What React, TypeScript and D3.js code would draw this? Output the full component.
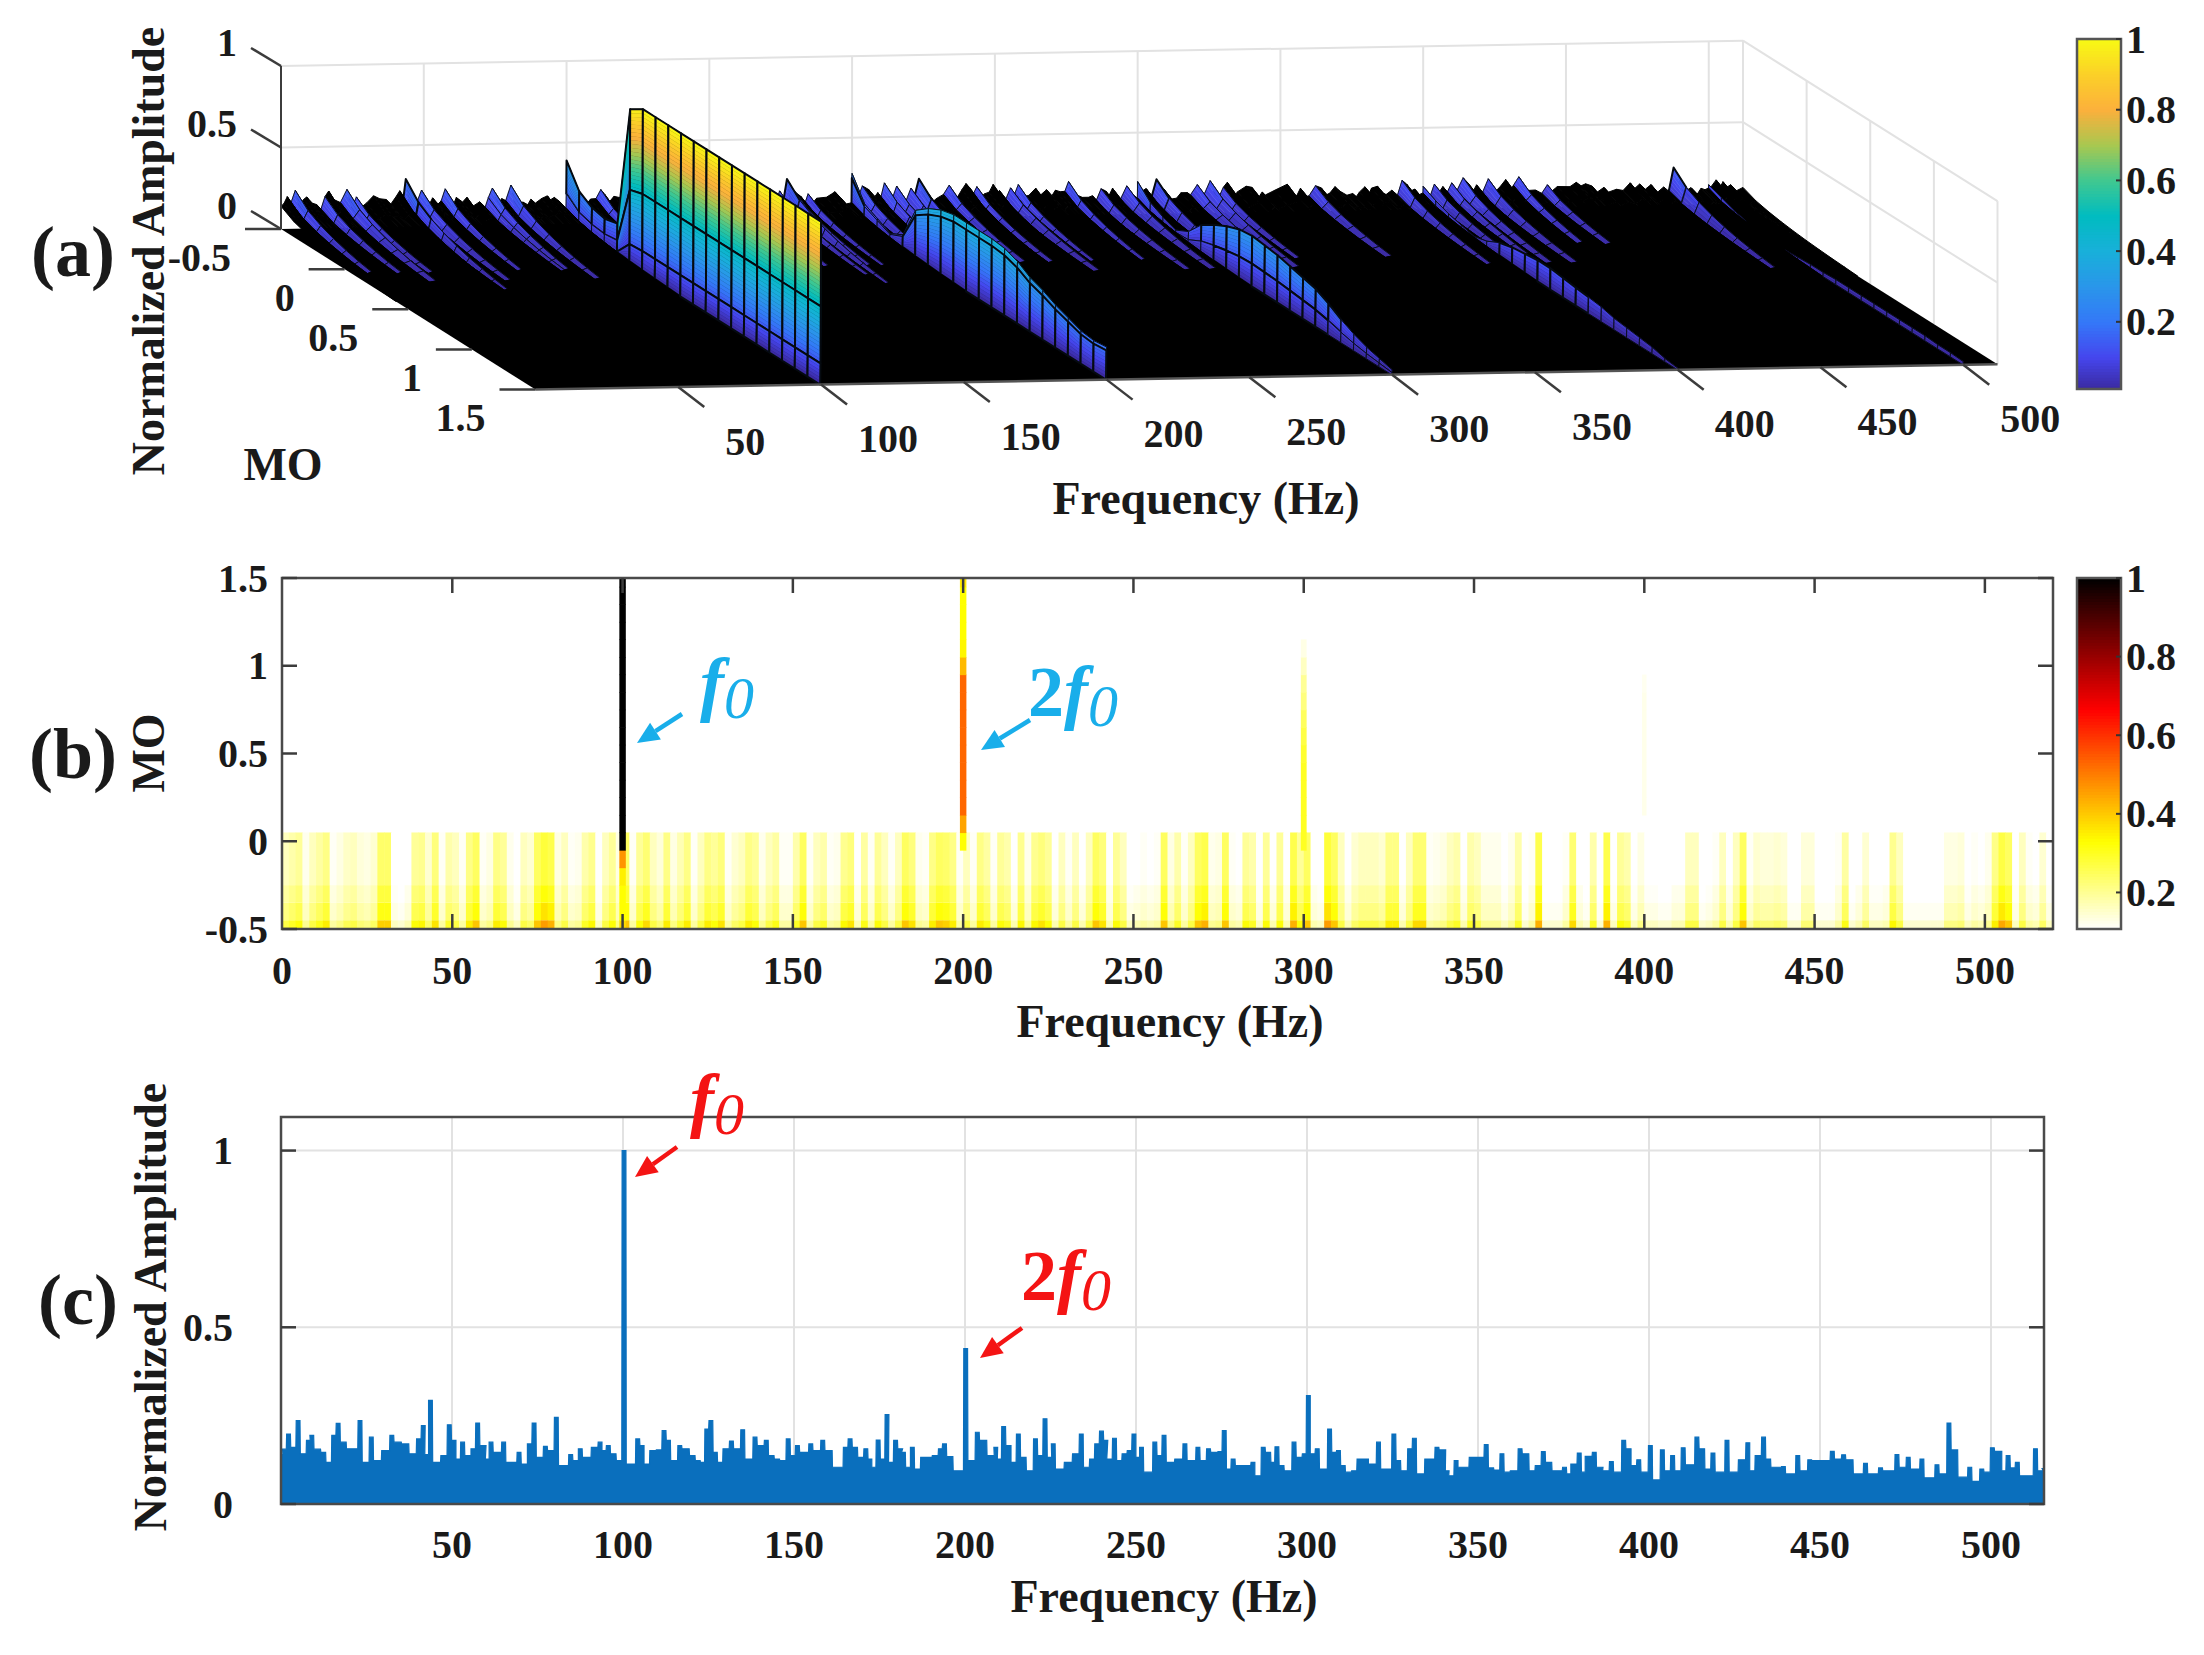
import React from 'react';
import * as d3 from 'd3';

// ---- spectrum of panel (c), also the MO = -0.5 row of the surface in (a)
const specFreq = [
  0, 1, 2.2, 3.5, 5, 6.2, 8, 9, 11, 12.5, 14, 15.4, 16.7, 18.5, 20.8, 23.1, 24.8, 26.4, 28, 30, 32.4, 34.6, 36.8, 38.5, 40.2, 41.6, 42.6, 43.7, 45.1, 47.3, 49.2, 50.6, 51.7, 53.1, 55, 56.1, 57.5, 59.4, 60.3, 61.4, 63.6, 65.1, 67.1, 69.6, 71.5, 72.6, 74, 75.9, 77.3, 78.7, 80.5, 82, 84.7, 86.4, 87.5, 89.1, 91.3, 93.3, 94.4, 95.7, 97.4, 99, 100.3, 102.3, 104.3, 105.6, 106.7, 108.4, 110.3, 112, 113.3, 114.6, 116.6, 118.8, 120.5, 122, 123.2, 124.5, 125.7, 127, 128.2, 129.8, 131.7, 133.4, 135, 136.4, 138.6, 140.3, 141.9, 143.6, 145.2, 146.9, 148.3, 149.6, 151, 153, 154.9, 156.8, 158.4, 160.6, 163.4, 165, 166.4, 168, 169.4, 171,
  172.2, 173.3, 174.6, 176, 177.2, 178.2, 179.7, 181.2, 182, 183.5, 184.6, 186, 187.6, 191, 192.8, 194, 195.9, 198, 200.2, 201.9, 203.6, 205.8, 208, 209, 210, 211.3, 212.9, 214, 215.6, 217.3, 218.6, 220.6, 221.9, 223.4, 224.8, 225.8, 227, 228.3, 229.6, 232, 234, 235.8, 237, 238.5, 239.9, 241.2, 242, 243.7, 245, 246.5, 248, 249.4, 250.5, 251.6, 253.4, 255.5, 256.9, 258.2, 259.7, 261.9, 264.3, 265.7, 268.1, 270, 271.2, 272.9, 274.5, 275.8, 277, 278.4, 280.6, 282.8, 284.2, 285.3, 287.2, 288.8, 290, 291.2, 292.7, 294, 296.2, 297.6, 299.2, 300.4, 301.5, 303, 304.8, 306.6, 308, 309.2, 310.6, 311.9, 313.6, 315.2, 317.4, 318.5, 320.9, 322.9, 325.4, 326.8, 328.4, 330, 331.4, 333, 335, 338, 340, 341, 342, 343.6,
  344.7, 348, 352.4, 354, 355.7, 357, 358.5, 360, 362.3, 364.3, 365.6, 367.3, 369.1, 371, 373.3, 375.3, 376.6, 377.7, 379.6, 380.8, 381.9, 384, 386, 387, 389, 391, 392.6, 394.2, 395.3, 397, 398.6, 400.4, 402.2, 403.9, 405.2, 406.9, 408.2, 410, 411.8, 414, 415.7, 417.3, 418.7, 420.6, 422.8, 424.5, 426.7, 428.9, 430, 431.6, 433.5, 435, 436.6, 439.3, 441.5, 443.5, 444.8, 447, 451.4, 453.6, 455.3, 456.9, 459.1, 460.8, 463.3, 464.8, 467.7, 470, 472.5, 474, 475.8, 477.8, 479.8, 481.7, 484.2, 486, 487.7, 489.7, 491, 493.8, 496, 497.3, 498.7, 500.4, 502.6, 503.7, 505, 506.3, 507.7, 509.7, 513, 514.7, 515.5,
];
const specAmp = [
  0.14, 0.155, 0.198, 0.16, 0.236, 0.142, 0.18, 0.194, 0.155, 0.146, 0.118, 0.194, 0.228, 0.175, 0.156, 0.236, 0.118, 0.189, 0.123, 0.151, 0.194, 0.175, 0.17, 0.142, 0.184, 0.222, 0.14, 0.293, 0.118, 0.137, 0.224, 0.18, 0.127, 0.175, 0.137, 0.156, 0.229, 0.165, 0.127, 0.175, 0.146, 0.175, 0.118, 0.146, 0.113, 0.17, 0.229, 0.132, 0.163, 0.151, 0.245, 0.109, 0.14, 0.123, 0.156, 0.132, 0.16, 0.175, 0.151, 0.165, 0.142, 0.123, 1, 0.113, 0.184, 0.165, 0.113, 0.151, 0.153, 0.208, 0.18, 0.123, 0.165, 0.156, 0.137, 0.123, 0.118, 0.212, 0.236, 0.146, 0.118, 0.156, 0.178, 0.156, 0.21, 0.127, 0.189, 0.165, 0.18, 0.137, 0.127, 0.123, 0.184, 0.137, 0.165, 0.146, 0.17, 0.151, 0.18, 0.151, 0.104, 0.16, 0.184, 0.16, 0.132, 0.156,
  0.127, 0.104, 0.181, 0.127, 0.253, 0.118, 0.18, 0.156, 0.146, 0.104, 0.16, 0.099, 0.132, 0.137, 0.156, 0.17, 0.134, 0.094, 0.44, 0.123, 0.203, 0.18, 0.137, 0.16, 0.127, 0.219, 0.165, 0.118, 0.198, 0.132, 0.094, 0.184, 0.137, 0.241, 0.132, 0.17, 0.099, 0.099, 0.118, 0.142, 0.198, 0.104, 0.127, 0.17, 0.206, 0.18, 0.127, 0.186, 0.123, 0.142, 0.151, 0.198, 0.132, 0.16, 0.09, 0.175, 0.137, 0.194, 0.118, 0.127, 0.17, 0.123, 0.16, 0.123, 0.156, 0.146, 0.148, 0.208, 0.099, 0.127, 0.109, 0.109, 0.118, 0.08, 0.16, 0.146, 0.118, 0.162, 0.109, 0.094, 0.175, 0.132, 0.142, 0.307, 0.142, 0.156, 0.099, 0.212, 0.146, 0.151, 0.109, 0.09, 0.094, 0.127, 0.127, 0.113, 0.175, 0.099, 0.198, 0.123, 0.094, 0.156, 0.186, 0.085, 0.127, 0.16, 0.153, 0.094, 0.08, 0.123,
  0.104, 0.132, 0.168, 0.102, 0.096, 0.142, 0.09, 0.094, 0.156, 0.142, 0.094, 0.109, 0.148, 0.118, 0.094, 0.104, 0.085, 0.113, 0.144, 0.09, 0.135, 0.146, 0.104, 0.094, 0.12, 0.09, 0.18, 0.156, 0.109, 0.125, 0.09, 0.165, 0.068, 0.153, 0.094, 0.137, 0.094, 0.159, 0.111, 0.189, 0.156, 0.099, 0.144, 0.09, 0.18, 0.09, 0.125, 0.173, 0.094, 0.137, 0.189, 0.127, 0.104, 0.106, 0.085, 0.137, 0.094, 0.125, 0.123, 0.149, 0.127, 0.139, 0.125, 0.085, 0.115, 0.085, 0.102, 0.094, 0.14, 0.104, 0.132, 0.099, 0.127, 0.074, 0.111, 0.085, 0.229, 0.153, 0.076, 0.104, 0.064, 0.099, 0.09, 0.159, 0.149, 0.094, 0.137, 0.102, 0.118, 0.08, 0.156, 0.094, 0.1,
];

// ---- surface (a): rows of MO, how the noise falls off, and the harmonic ridges
const moRows = [-0.5, -0.4, -0.3, -0.2, -0.1, 0, 0.1, 0.2, 0.3, 0.4, 0.5, 0.6, 0.7, 0.8, 0.9, 1, 1.1, 1.2, 1.3, 1.4, 1.5];
const noiseDecay = [1, 0.68, 0.5, 0.37, 0.27, 0.19, 0.13, 0.08, 0.04, 0, 0, 0, 0, 0, 0, 0, 0, 0, 0, 0, 0];
const ridgeFreqs = [100, 200, 300, 400, 500];
const ridge100 = [0.39, 0.25, 0.2, 0.18, 0.2, 0.95, 1, 1, 1, 1, 1, 1, 1, 1, 1, 1, 1, 1, 1, 1, 1];
const ridge200 = [0.28, 0.14, 0.1, 0.06, 0.1, 0.3, 0.36, 0.4, 0.42, 0.42, 0.42, 0.42, 0.41, 0.38, 0.33, 0.3, 0.26, 0.23, 0.2, 0.19, 0.2];
const ridge300 = [0.2, 0.12, 0.08, 0.05, 0.09, 0.18, 0.23, 0.27, 0.3, 0.31, 0.3, 0.29, 0.27, 0.25, 0.23, 0.19, 0.14, 0.1, 0.07, 0.05, 0.03];
const ridge400 = [0.14, 0.1, 0.07, 0.05, 0.03, 0.05, 0.09, 0.11, 0.12, 0.13, 0.13, 0.12, 0.11, 0.1, 0.09, 0.07, 0.06, 0.05, 0.04, 0.02, 0.01];
const ridge500 = [0.12, 0.09, 0.06, 0.04, 0.02, 0.01, 0.015, 0.02, 0.025, 0.025, 0.03, 0.03, 0.03, 0.03, 0.03, 0.03, 0.03, 0.03, 0.025, 0.025, 0.02];
const ridgeTops = [ridge100, ridge200, ridge300, ridge400, ridge500];
const ridgeShape = [[0, 0.13, 0.48, 1], [0, 0.9, 1], [0, 0.45, 1], [0, 1], [0, 1]];

// ---- heat map (b): column levels every 2 Hz, gain of the lower rows, harmonic columns
const bandLevel = [
  0.2, 0.22, 0.24, 0.15, 0.2, 0.23, 0.26, 0.14, 0.16, 0.19, 0.2, 0.17, 0.16, 0.18, 0.29, 0.29, 0.12, 0.11, 0.13, 0.24, 0.25, 0.18, 0.27, 0.14, 0.22, 0.2, 0.14, 0.26, 0.3, 0.14, 0.16, 0.26, 0.24, 0.15, 0.12, 0.2, 0.18, 0.3, 0.34, 0.32, 0.16, 0.2, 0.14, 0.15, 0.22, 0.25, 0.12, 0.2, 0.24, 0.16,
  0.3, 0.14, 0.24, 0.28, 0.2, 0.17, 0.26, 0.16, 0.21, 0.26, 0.14, 0.2, 0.26, 0.24, 0.27, 0.14, 0.18, 0.2, 0.26, 0.24, 0.15, 0.2, 0.23, 0.14, 0.14, 0.22, 0.3, 0.14, 0.2, 0.22, 0.14, 0.15, 0.25, 0.27, 0.13, 0.23, 0.14, 0.24, 0.2, 0.14, 0.2, 0.3, 0.27, 0.15, 0.14, 0.26, 0.3, 0.29, 0.26, 0.14,
  0.2, 0.14, 0.26, 0.23, 0.14, 0.24, 0.22, 0.13, 0.25, 0.15, 0.25, 0.27, 0.24, 0.13, 0.2, 0.14, 0.2, 0.13, 0.2, 0.3, 0.27, 0.13, 0.24, 0.2, 0.12, 0.13, 0.14, 0.13, 0.14, 0.3,
  0.16, 0.22, 0.14, 0.2, 0.3, 0.32, 0.15, 0.16, 0.3, 0.14, 0.13, 0.24, 0.22, 0.12, 0.24, 0.13, 0.24, 0.13, 0.32, 0.24, 0.3, 0.13, 0.12, 0.34, 0.3, 0.2, 0.13, 0.18, 0.2, 0.2, 0.2, 0.18, 0.26, 0.26, 0.13, 0.2, 0.28, 0.28, 0.14, 0.15, 0.16, 0.2, 0.22, 0.13, 0.22, 0.2, 0.15, 0.15, 0.15, 0.12,
  0.15, 0.22, 0.11, 0.14, 0.32, 0.11, 0.11, 0.11, 0.14, 0.28, 0.13, 0.11, 0.22, 0.11, 0.32, 0.12, 0.24, 0.22, 0.12, 0.16, 0.12, 0.12, 0.11, 0.11, 0.13, 0.13, 0.2, 0.2, 0.11, 0.12, 0.14, 0.2, 0.13, 0.2, 0.3, 0.14, 0.18, 0.17, 0.17, 0.18, 0.17, 0.11, 0.11, 0.17, 0.17, 0.11, 0.11, 0.11, 0.14, 0.23,
  0.11, 0.13, 0.18, 0.12, 0.12, 0.13, 0.25, 0.2, 0.11, 0.11, 0.11, 0.11, 0.11, 0.11, 0.16, 0.16, 0.17, 0.12, 0.14, 0.13, 0.15, 0.26, 0.33, 0.3, 0.12, 0.2, 0.14, 0.13, 0.18, 0.12,
];
const bandRowEdges = [-0.5, -0.45, -0.35, -0.25, 0.05];
const bandRowGain = [1.35, 1.08, 0.95, 0.82];
const heatFreqs = [100, 200, 300, 400];
const heat100 = [0.38, 0.33, 0.33, 0.35, 0.47, 1, 1, 1, 1, 1, 1, 1, 1, 1, 1, 1, 1, 1, 1, 1, 1];
const heat200 = [0, 0, 0, 0, 0, 0.33, 0.45, 0.53, 0.53, 0.53, 0.53, 0.53, 0.53, 0.53, 0.53, 0.42, 0.34, 0.33, 0.33, 0.33, 0.36];
const heat300 = [0, 0, 0, 0, 0, 0.3, 0.3, 0.3, 0.3, 0.3, 0.29, 0.27, 0.25, 0.22, 0.2, 0.16, 0.13, 0, 0, 0, 0];
const heat400 = [0, 0, 0, 0, 0, 0, 0, 0.125, 0.125, 0.125, 0.125, 0.125, 0.125, 0.125, 0.12, 0, 0, 0, 0, 0, 0];
const heatColumns = [heat100, heat200, heat300, heat400];
const heatWidths = [1.9, 1.9, 1.7, 1.3];

// ---- tick labels
const ticksA = [50, 100, 150, 200, 250, 300, 350, 400, 450, 500];
const ticksMoA = [-0.5, 0, 0.5, 1, 1.5];
const ticksZA = [0, 0.5, 1];
const ticksFreq = [50, 100, 150, 200, 250, 300, 350, 400, 450, 500];
const ticksMoB = [-0.5, 0, 0.5, 1, 1.5];
const ticksAmpC = [0, 0.5, 1];
const barTicks = [0.2, 0.4, 0.6, 0.8, 1];

const SERIF = '"Liberation Serif", serif';
const AXIS = '#3c3c3c';
const GRID = '#e2e2e2';
const TICK_FONT = 40;
const TITLE_FONT = 46;

const parula = d3.scaleLinear<string>()
  .domain([0.01, 0.1, 0.2, 0.3, 0.4, 0.5, 0.6, 0.7, 0.8, 0.9, 1])
  .range(['#3b2aa0', '#4546ee', '#3478f8', '#2a96ea', '#18b0da', '#00bcc0', '#40c890', '#a8c850', '#fcb03c', '#fbd028', '#f8fa14'])
  .clamp(true);

const hotReversed = d3.scaleLinear<string>()
  .domain([0.107, 0.33, 0.665, 1])
  .range(['#ffffff', '#ffff00', '#ff0000', '#000000'])
  .clamp(true);

// panel (a) projection
const P0: [number, number] = [281, 229];
const fFrac = d3.scaleLinear().domain([0, 512]).range([0, 1]);
const moFrac = d3.scaleLinear().domain([-0.5, 1.5]).range([0, 1]);
const zPix = d3.scaleLinear().domain([0, 1]).range([0, 163]);
const project = (f: number, mo: number, z: number): [number, number] => [
  P0[0] + fFrac(f) * 1462 + moFrac(mo) * 254.5,
  P0[1] - fFrac(f) * 25.3 + moFrac(mo) * 160.5 - zPix(z),
];

const poly = (pts: [number, number][]) => (d3.line()(pts) ?? '') + 'Z';
const lerp = (a: [number, number], b: [number, number], t: number): [number, number] => [
  a[0] + (b[0] - a[0]) * t,
  a[1] + (b[1] - a[1]) * t,
];

type Knot = { f: number; amp: number; ridge: number; frac: number };

function buildSurface() {
  const knots: Knot[] = [];
  specFreq.forEach((f, i) => {
    if (f > 512) return;
    if (ridgeFreqs.some(r => Math.abs(r - f) < 1.1)) return;
    knots.push({ f, amp: specAmp[i], ridge: -1, frac: 0 });
  });
  knots.push({ f: 512, amp: 0.1, ridge: -1, frac: 0 });
  ridgeFreqs.forEach((r, k) => {
    const shape = ridgeShape[k];
    shape.forEach((frac, s) => {
      knots.push({ f: r - 0.1 * (shape.length - 1 - s), amp: 0.1, ridge: k, frac });
    });
    knots.push({ f: r + 0.5, amp: 0.1, ridge: k, frac: 0 });
  });
  knots.sort((a, b) => a.f - b.f);

  const zAt = (k: Knot, j: number) => {
    const noise = k.amp * noiseDecay[j];
    if (k.ridge < 0) return noise;
    return Math.max(ridgeTops[k.ridge][j] * k.frac, noise);
  };

  const out: { d: string; fill: string; stroke: string; sw: number }[] = [];
  for (let j = 0; j < moRows.length - 1; j++) {
    for (let i = knots.length - 2; i >= 0; i--) {
      const a = knots[i];
      const b = knots[i + 1];
      const z00 = zAt(a, j);
      const z10 = zAt(b, j);
      const z01 = zAt(a, j + 1);
      const z11 = zAt(b, j + 1);
      if (Math.max(z00, z10, z01, z11) < 0.004) continue;
      const A = project(a.f, moRows[j], z00);
      const B = project(b.f, moRows[j], z10);
      const C = project(b.f, moRows[j + 1], z11);
      const D = project(a.f, moRows[j + 1], z01);
      const rise = Math.max(z10 - z00, z11 - z01);
      const isRidge = b.ridge >= 0 && b.frac > 0 && rise > 0.004;
      if (!isRidge && rise < Math.max(0.01, 0.05 * noiseDecay[j])) {
        out.push({ d: poly([A, B, C, D]), fill: '#000', stroke: '#000', sw: 1 });
        continue;
      }
      const n = Math.max(1, Math.min(30, Math.ceil(rise / 0.025)));
      d3.range(n).forEach(k => {
        const t0 = k / n;
        const t1 = (k + 1) / n;
        const zMid = (z00 + (z10 - z00) * (t0 + t1) / 2 + z01 + (z11 - z01) * (t0 + t1) / 2) / 2;
        const col = parula(isRidge ? zMid : zMid * 0.75);
        out.push({
          d: poly([lerp(A, B, t0), lerp(A, B, t1), lerp(D, C, t1), lerp(D, C, t0)]),
          fill: col,
          stroke: col,
          sw: 0.4,
        });
      });
      out.push({ d: poly([A, B, C, D]), fill: 'none', stroke: '#050a10', sw: rise > 0.1 ? 2 : 0.9 });
    }
  }
  return out;
}

// squared teeth of the spectrum: each read value is a flat top one bin wide,
// the lower neighbour holds right up to the edge of the taller one
function spectrumPoints() {
  const hw = 0.55;
  const pts: [number, number][] = [];
  specFreq.forEach((f, i) => {
    const a = specAmp[i];
    pts.push([f - (i > 0 ? hw : 0), a]);
    pts.push([f + (i < specFreq.length - 1 ? hw : 0), a]);
    if (i < specFreq.length - 1) {
      const next = specAmp[i + 1];
      const fNext = specFreq[i + 1];
      if (next < a) pts.push([Math.min(f + hw + 0.1, fNext - hw), next]);
      else pts.push([Math.max(fNext - hw - 0.1, f + hw), a]);
    }
  });
  return pts;
}

const Arrow = ({ x1, y1, x2, y2, color }: { x1: number; y1: number; x2: number; y2: number; color: string }) => {
  const ang = Math.atan2(y2 - y1, x2 - x1);
  const len = 22;
  const hw = 10;
  const bx = x2 - Math.cos(ang) * len;
  const by = y2 - Math.sin(ang) * len;
  const nx = -Math.sin(ang) * hw;
  const ny = Math.cos(ang) * hw;
  return (
    <g>
      <line x1={x1} y1={y1} x2={bx} y2={by} stroke={color} strokeWidth={4.5} />
      <path d={poly([[x2, y2], [bx + nx, by + ny], [bx - nx, by - ny]])} fill={color} />
    </g>
  );
};

const Harmonic = ({ x, y, color, two }: { x: number; y: number; color: string; two?: boolean }) => (
  <text x={x} y={y} fill={color} fontFamily={SERIF} fontSize={72} fontWeight={700}>
    {two ? '2' : ''}
    <tspan fontStyle="italic">f</tspan>
    <tspan fontStyle="italic" fontWeight={400} fontSize={60} dy={10}>0</tspan>
  </text>
);

const Label = ({ x, y, anchor = 'middle', size = TICK_FONT, rotate, children }: any) => (
  <text
    x={x}
    y={y}
    textAnchor={anchor}
    dominantBaseline="central"
    fontFamily={SERIF}
    fontWeight={700}
    fontSize={size}
    fill="#1a1a1a"
    transform={rotate ? `rotate(${rotate} ${x} ${y})` : undefined}
  >
    {children}
  </text>
);

const Colorbar = ({ x, y0, y1, lo, color, labelX }: any) => {
  const s = d3.scaleLinear().domain([lo, 1]).range([y1, y0]);
  const steps = d3.range(0, 120);
  return (
    <g>
      {steps.map(i => {
        const v = lo + (1 - lo) * (i + 0.5) / 120;
        return <rect key={i} x={x} width={44} y={s(v) - (y1 - y0) / 240 - 0.5} height={(y1 - y0) / 120 + 1} fill={color(v)} />;
      })}
      <rect x={x} y={y0} width={44} height={y1 - y0} fill="none" stroke="#555" strokeWidth={2.5} />
      {barTicks.map(t => (
        <g key={t}>
          <line x1={x + 39} x2={x + 44} y1={s(t)} y2={s(t)} stroke="#333" strokeWidth={2} />
          <Label x={labelX} y={s(t)} anchor="start">{t}</Label>
        </g>
      ))}
    </g>
  );
};

export default function App() {
  const surface = React.useMemo(buildSurface, []);

  // panel (b)
  const xB = d3.scaleLinear().domain([0, 520]).range([282, 2053]);
  const yB = d3.scaleLinear().domain([-0.5, 1.5]).range([929, 578]);

  // panel (c)
  const xC = d3.scaleLinear().domain([0, 515.5]).range([281, 2044]);
  const yC = d3.scaleLinear().domain([0, 1.095]).range([1504, 1117]);
  const area = d3.area<[number, number]>()
    .x(d => xC(d[0]))
    .y0(yC(0))
    .y1(d => yC(d[1]));

  const wall = (f0: number, m0: number, z0: number, f1: number, m1: number, z1: number) => {
    const a = project(f0, m0, z0);
    const b = project(f1, m1, z1);
    return { x1: a[0], y1: a[1], x2: b[0], y2: b[1] };
  };

  return (
    <svg width={2204} height={1655} style={{ position: 'absolute', left: 0, top: 0, background: '#fff' }}>
      {/* ---------- (a) ---------- */}
      <g stroke={GRID} strokeWidth={2}>
        {[0.5, 1].map(z => <line key={z} {...wall(0, -0.5, z, 512, -0.5, z)} />)}
        {[0.5, 1].map(z => <line key={`r${z}`} {...wall(512, -0.5, z, 512, 1.5, z)} />)}
        {ticksA.map(f => <line key={f} {...wall(f, -0.5, 0, f, -0.5, 1)} />)}
        <line {...wall(512, -0.5, 0, 512, -0.5, 1)} />
        {[0, 0.5, 1, 1.5].map(m => <line key={m} {...wall(512, m, 0, 512, m, 1)} />)}
      </g>
      <path
        d={poly([project(0, -0.5, 0), project(512, -0.5, 0), project(512, 1.5, 0), project(0, 1.5, 0)])}
        fill="#000"
      />
      <g>
        {surface.map((q, i) => <path key={i} d={q.d} fill={q.fill} stroke={q.stroke} strokeWidth={q.sw} strokeLinejoin="round" />)}
      </g>
      <line {...wall(0, -0.5, 0, 0, -0.5, 1)} stroke={AXIS} strokeWidth={2} />
      <line {...wall(0, 1.5, 0, 512, 1.5, 0)} stroke="#555" strokeWidth={2.5} />
      {ticksZA.map(z => {
        const [x, y] = project(0, -0.5, z);
        return (
          <g key={z}>
            <line x1={x} y1={y} x2={x - 30} y2={y - 18} stroke={AXIS} strokeWidth={2.5} />
            <Label x={237} y={y - 24} anchor="end">{z}</Label>
          </g>
        );
      })}
      {ticksMoA.map(m => {
        const [x, y] = project(0, m, 0);
        return (
          <g key={m}>
            <line x1={x} y1={y} x2={x - 36} y2={y} stroke={AXIS} strokeWidth={2.5} />
            <Label x={x - 50} y={y + 28} anchor="end">{m}</Label>
          </g>
        );
      })}
      {ticksA.map(f => {
        const [x, y] = project(f, 1.5, 0);
        return (
          <g key={f}>
            <line x1={x} y1={y} x2={x + 26} y2={y + 20} stroke={AXIS} strokeWidth={2.5} />
            <Label x={x + 67} y={y + 54}>{f}</Label>
          </g>
        );
      })}
      <Label x={283} y={464} size={TITLE_FONT}>MO</Label>
      <Label x={1206} y={498} size={TITLE_FONT}>Frequency (Hz)</Label>
      <Label x={148} y={251} size={TITLE_FONT} rotate={-90}>Normalized Amplitude</Label>
      <Label x={73} y={252} size={72}>(a)</Label>
      <Colorbar x={2077} y0={39} y1={389} lo={0.01} color={parula} labelX={2126} />

      {/* ---------- (b) ---------- */}
      {bandLevel.map((lvl, i) =>
        bandRowGain.map((g, r) => {
          const x0 = xB(i * 2);
          const x1 = Math.min(xB(i * 2 + 2), xB(520));
          return (
            <rect
              key={`${i}-${r}`}
              x={x0}
              y={yB(bandRowEdges[r + 1])}
              width={x1 - x0 + 0.5}
              height={yB(bandRowEdges[r]) - yB(bandRowEdges[r + 1])}
              fill={hotReversed(lvl * g)}
            />
          );
        }),
      )}
      {heatColumns.map((col, c) =>
        col.map((v, j) => {
          if (v === 0) return null;
          const w = heatWidths[c];
          const top = yB(Math.min(1.5, moRows[j] + 0.05));
          const bottom = yB(Math.max(-0.5, moRows[j] - 0.05));
          return (
            <rect
              key={`${c}-${j}`}
              x={xB(heatFreqs[c] - w / 2)}
              width={xB(w) - xB(0)}
              y={top}
              height={bottom - top + 0.6}
              fill={hotReversed(v)}
            />
          );
        }),
      )}
      <rect x={282} y={578} width={1771} height={351} fill="none" stroke="#4a4a4a" strokeWidth={2.5} />
      {ticksFreq.concat([0]).map(f => (
        <g key={f}>
          {f > 0 && <line x1={xB(f)} x2={xB(f)} y1={929} y2={914} stroke={AXIS} strokeWidth={2.5} />}
          {f > 0 && <line x1={xB(f)} x2={xB(f)} y1={578} y2={593} stroke={AXIS} strokeWidth={2.5} />}
          <Label x={xB(f)} y={970}>{f}</Label>
        </g>
      ))}
      {ticksMoB.map(m => (
        <g key={m}>
          <line x1={282} x2={297} y1={yB(m)} y2={yB(m)} stroke={AXIS} strokeWidth={2.5} />
          <line x1={2053} x2={2038} y1={yB(m)} y2={yB(m)} stroke={AXIS} strokeWidth={2.5} />
          <Label x={268} y={yB(m)} anchor="end">{m}</Label>
        </g>
      ))}
      <Label x={1170} y={1021} size={TITLE_FONT}>Frequency (Hz)</Label>
      <Label x={148} y={753} size={TITLE_FONT} rotate={-90}>MO</Label>
      <Label x={73} y={754} size={72}>(b)</Label>
      <Colorbar x={2077} y0={578} y1={929} lo={0.107} color={hotReversed} labelX={2126} />
      <Arrow x1={682} y1={714} x2={637} y2={743} color="#19aeea" />
      <Harmonic x={700} y={708} color="#19aeea" />
      <Arrow x1={1030} y1={720} x2={981} y2={750} color="#19aeea" />
      <Harmonic x={1028} y={716} color="#19aeea" two />

      {/* ---------- (c) ---------- */}
      <g stroke={GRID} strokeWidth={2}>
        {ticksFreq.map(f => <line key={f} x1={xC(f)} x2={xC(f)} y1={1117} y2={1504} />)}
        {[0.5, 1].map(a => <line key={a} x1={281} x2={2044} y1={yC(a)} y2={yC(a)} />)}
      </g>
      <path d={area(spectrumPoints()) ?? ''} fill="#0a6fbd" stroke="#0a6fbd" strokeWidth={1.2} />
      <rect x={281} y={1117} width={1763} height={387} fill="none" stroke="#4a4a4a" strokeWidth={2.5} />
      {ticksFreq.map(f => <Label key={f} x={xC(f)} y={1544}>{f}</Label>)}
      {ticksAmpC.map(a => (
        <g key={a}>
          <line x1={281} x2={296} y1={yC(a)} y2={yC(a)} stroke={AXIS} strokeWidth={2.5} />
          <line x1={2044} x2={2029} y1={yC(a)} y2={yC(a)} stroke={AXIS} strokeWidth={2.5} />
          <Label x={233} y={yC(a)} anchor="end">{a}</Label>
        </g>
      ))}
      <Label x={1164} y={1596} size={TITLE_FONT}>Frequency (Hz)</Label>
      <Label x={150} y={1307} size={TITLE_FONT} rotate={-90}>Normalized Amplitude</Label>
      <Label x={78} y={1300} size={72}>(c)</Label>
      <Arrow x1={677} y1={1147} x2={635} y2={1177} color="#f41414" />
      <Harmonic x={690} y={1124} color="#f41414" />
      <Arrow x1={1022} y1={1328} x2={980} y2={1358} color="#f41414" />
      <Harmonic x={1021} y={1300} color="#f41414" two />
    </svg>
  );
}
